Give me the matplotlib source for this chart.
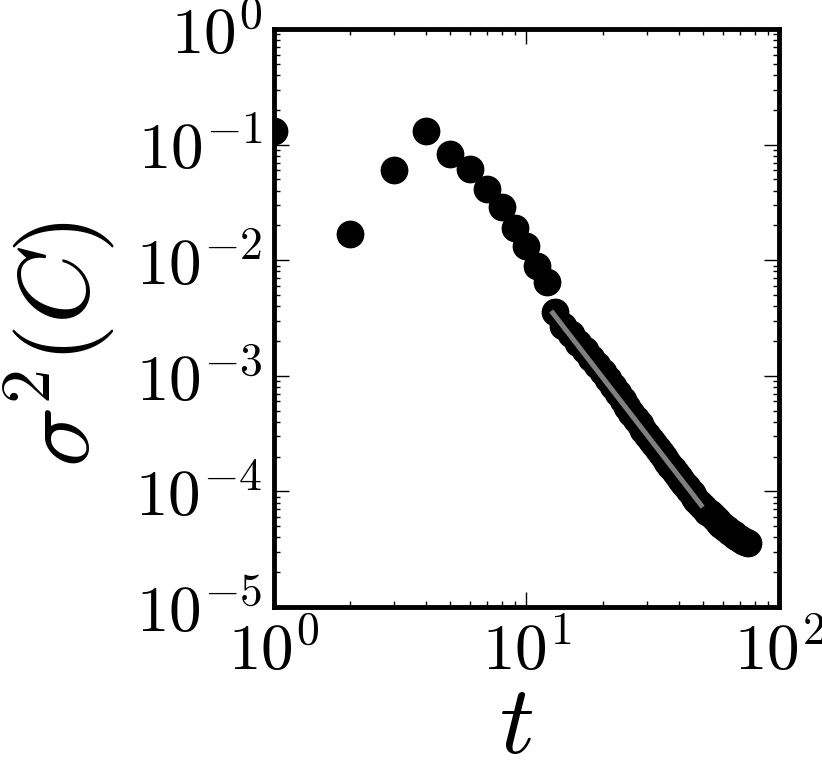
import numpy as np
import matplotlib
matplotlib.use("Agg")
import matplotlib.pyplot as plt
from matplotlib.ticker import LogLocator, NullFormatter

plt.rcParams['mathtext.fontset'] = 'cm'
plt.rcParams['font.family'] = 'serif'
plt.rcParams['font.serif'] = ['cmr10', 'DejaVu Serif']
plt.rcParams['axes.formatter.use_mathtext'] = True

# variance of C against time t
t = [1, 2, 3, 4, 5, 6, 7, 8, 9, 10, 11, 12, 13,
     14, 15, 16, 17, 18, 19, 20, 21, 22, 23, 24, 25, 26, 27, 28, 29, 30,
     31, 32, 33, 34, 35, 36, 37, 38, 39, 40, 41, 42, 43, 44, 45, 46, 47,
     48, 49, 50, 51, 52, 53, 54, 55, 56, 57, 58, 59, 60, 61, 62, 63, 64,
     65, 66, 67, 68, 69, 70, 71, 72, 73, 74, 75]
sigma2 = [1.31e-1, 1.69e-2, 6.03e-2, 1.31e-1, 8.3e-2, 6.15e-2, 4.13e-2,
          2.89e-2, 1.9e-2, 1.33e-2, 8.9e-3, 6.5e-3, 3.6e-3,
          2.7e-3, 2.28e-3, 1.93e-3, 1.66e-3, 1.43e-3, 1.24e-3, 1.08e-3,
          9.4e-4, 8.2e-4, 7.1e-4, 6.2e-4, 5.4e-4, 4.75e-4, 4.25e-4,
          3.8e-4, 3.42e-4, 3.09e-4, 2.8e-4, 2.56e-4, 2.34e-4, 2.15e-4,
          1.97e-4, 1.81e-4, 1.67e-4, 1.55e-4, 1.44e-4, 1.34e-4, 1.25e-4,
          1.17e-4, 1.09e-4, 1.02e-4, 9.6e-5, 9.0e-5, 8.5e-5, 8.0e-5,
          7.6e-5, 7.3e-5, 7.0e-5, 6.7e-5, 6.45e-5, 6.2e-5, 5.95e-5,
          5.75e-5, 5.55e-5, 5.35e-5, 5.15e-5, 5.0e-5, 4.85e-5, 4.7e-5,
          4.55e-5, 4.45e-5, 4.35e-5, 4.25e-5, 4.15e-5, 4.05e-5, 3.95e-5,
          3.88e-5, 3.8e-5, 3.74e-5, 3.68e-5, 3.63e-5, 3.58e-5]

# power-law fit
fit_t = [12.7, 49.1]
fit_y = [3.5e-3, 7.6e-5]

fig = plt.figure(figsize=(8.22, 7.65), dpi=100)
ax = fig.add_axes([0.333, 0.2065, 0.615, 0.7555])

ax.plot(t, sigma2, 'o', color='black', markersize=19, zorder=2)
ax.plot(fit_t, fit_y, '-', color='gray', linewidth=3.6, zorder=3)

ax.set_xscale('log')
ax.set_yscale('log')
ax.set_xlim(1, 100)
ax.set_ylim(1e-5, 1)
for axis in (ax.xaxis, ax.yaxis):
    axis.set_major_locator(LogLocator(base=10, numticks=12))
    axis.set_minor_locator(LogLocator(base=10, subs=np.arange(2, 10), numticks=12))
    axis.set_minor_formatter(NullFormatter())

for s in ax.spines.values():
    s.set_linewidth(3.5)
ax.tick_params(which='both', direction='in', top=True, right=True,
               labelsize=47)
ax.tick_params(axis='x', pad=10)
ax.tick_params(axis='y', pad=8)
ax.tick_params(which='major', length=11, width=1)
ax.tick_params(which='minor', length=4, width=1)

ax.set_xlabel(r'$t$', fontsize=70)
ax.set_ylabel(r'$\sigma^2(C)$', fontsize=72)
ax.xaxis.set_label_coords(0.48, -0.135)
ax.yaxis.set_label_coords(-0.31, 0.455)

fig.savefig('out.png', dpi=100)
